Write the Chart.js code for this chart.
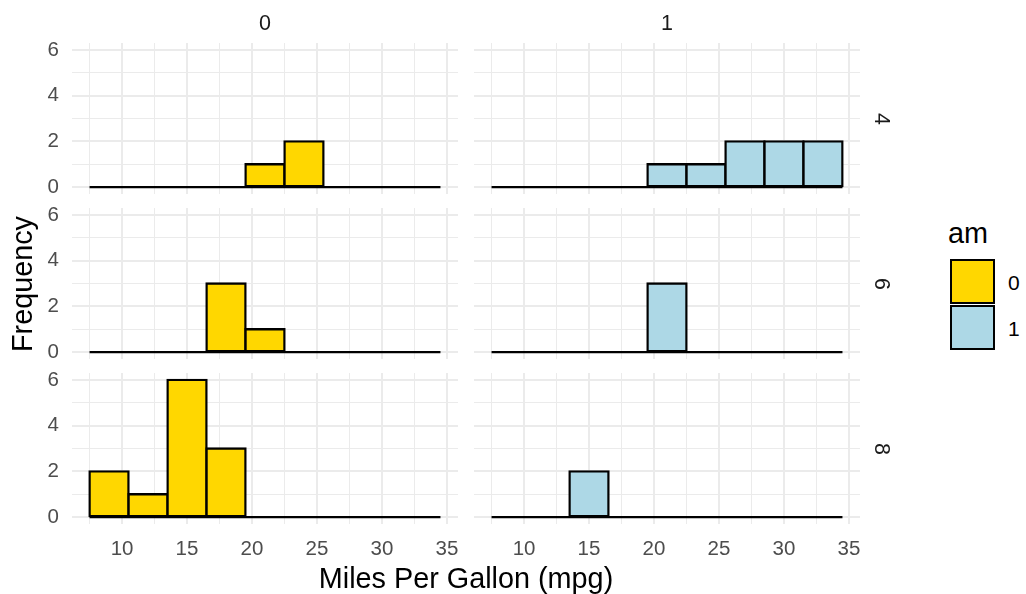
<!DOCTYPE html>
<html>
<head>
<meta charset="utf-8">
<script src="https://cdn.jsdelivr.net/npm/chart.js@4.4.0/dist/chart.umd.min.js"></script>
<style>
  body { margin: 0; background: #fff; font-family: "Liberation Sans", Arial, sans-serif; }
  #wrap { position: relative; width: 1026px; height: 594px; overflow: hidden; background: #fff; }
  #wrap canvas { position: absolute; }
  .lbl { position: absolute; white-space: nowrap; transform: translate(-50%, -50%); line-height: 1; }
  .strip { font-size: 21.5px; color: #1A1A1A; }
  .title { font-size: 28.8px; color: #000; }
  .key { position: absolute; box-sizing: border-box; border: 2.5px solid #000; width: 45px; height: 45px; }
  .keylbl { position: absolute; font-size: 21px; color: #000; line-height: 1; transform: translateY(-50%); }
</style>
</head>
<body>
<div id="wrap"></div>
<script>
// histogram bins (mpg, width 3)
const binCenters = [9, 12, 15, 18, 21, 24, 27, 30, 33];
const binWidth = 3;

// facets
const amLevels = ['0', '1'];
const cylLevels = ['4', '6', '8'];
const fillColors = ['#FFD700', '#ADD8E6'];

// counts per bin
const countsCyl4Am0 = [0, 0, 0, 0, 1, 2, 0, 0, 0];
const countsCyl4Am1 = [0, 0, 0, 0, 1, 1, 2, 2, 2];
const countsCyl6Am0 = [0, 0, 0, 3, 1, 0, 0, 0, 0];
const countsCyl6Am1 = [0, 0, 0, 0, 3, 0, 0, 0, 0];
const countsCyl8Am0 = [2, 1, 6, 3, 0, 0, 0, 0, 0];
const countsCyl8Am1 = [0, 0, 2, 0, 0, 0, 0, 0, 0];
const counts = [
  [countsCyl4Am0, countsCyl4Am1],
  [countsCyl6Am0, countsCyl6Am1],
  [countsCyl8Am0, countsCyl8Am1]
];

// axis ticks (major ones get labels)
const xTicks = [7.5, 10, 12.5, 15, 17.5, 20, 22.5, 25, 27.5, 30, 32.5, 35];
const xMajor = [10, 15, 20, 25, 30, 35];
const yTicks = [0, 1, 2, 3, 4, 5, 6];
const yMajor = [0, 2, 4, 6];

const xTitle = 'Miles Per Gallon (mpg)';
const yTitle = 'Frequency';
const legendTitle = 'am';

// layout
const colLeft = [72, 474];
const rowTop = [43, 208, 373];
const panelW = 386;
const panelH = 151;
const xMin = 6.15, xMax = 35.85;
const M = 30;
const FONT = '"Liberation Sans", Arial, sans-serif';

const wrap = document.getElementById('wrap');

function makePanel(r, c) {
  const cv = document.createElement('canvas');
  const bottomExtra = r === 2 ? 44 : M;
  const w = panelW + 2 * M;
  const h = panelH + M + bottomExtra;
  cv.width = w;
  cv.height = h;
  cv.style.left = (colLeft[c] - M) + 'px';
  cv.style.top = (rowTop[r] - M) + 'px';
  cv.style.width = w + 'px';
  cv.style.height = h + 'px';
  wrap.appendChild(cv);

  const data = counts[r][c];
  const first = binCenters[0] - binWidth / 2;
  const last = binCenters[binCenters.length - 1] + binWidth / 2;

  new Chart(cv, {
    type: 'bar',
    data: {
      datasets: [
        {
          type: 'line',
          data: [{ x: first, y: 0 }, { x: last, y: 0 }],
          borderColor: '#000',
          borderWidth: 2.4,
          pointRadius: 0,
          order: 1
        },
        {
          data: binCenters.map((x, i) => ({ x: x, y: data[i] })),
          backgroundColor: fillColors[c],
          borderColor: '#000',
          borderWidth: 2.4,
          borderSkipped: false,
          inflateAmount: 1.2,
          // one bin wide in pixels
          barThickness: binWidth * panelW / (xMax - xMin),
          order: 0
        }
      ]
    },
    options: {
      responsive: false,
      animation: false,
      events: [],
      layout: { padding: { left: c === 0 ? 0 : M, right: M, top: M, bottom: r === 2 ? 0 : M } },
      plugins: { legend: { display: false }, tooltip: { enabled: false } },
      scales: {
        x: {
          type: 'linear',
          min: xMin,
          max: xMax,
          offset: false,
          border: { display: false },
          grid: {
            offset: false,
            drawTicks: false,
            color: '#EBEBEB',
            lineWidth: ctx => xMajor.includes(ctx.tick.value) ? 2 : 1
          },
          afterBuildTicks: s => { s.ticks = xTicks.map(v => ({ value: v })); },
          afterFit: s => { s.height = r === 2 ? 44 : 0; },
          ticks: {
            display: r === 2,
            autoSkip: false,
            maxRotation: 0,
            padding: 13,
            color: '#4D4D4D',
            font: { family: FONT, size: 20.5 },
            callback: v => xMajor.includes(v) ? String(v) : ''
          }
        },
        y: {
          type: 'linear',
          min: -0.3,
          max: 6.3,
          border: { display: false },
          grid: {
            drawTicks: false,
            color: '#EBEBEB',
            lineWidth: ctx => yMajor.includes(ctx.tick.value) ? 2 : 1
          },
          afterBuildTicks: s => { s.ticks = yTicks.map(v => ({ value: v })); },
          afterFit: s => { s.width = c === 0 ? M : 0; },
          ticks: {
            display: c === 0,
            autoSkip: false,
            padding: 13,
            color: '#4D4D4D',
            font: { family: FONT, size: 20.5 },
            callback: v => yMajor.includes(v) ? String(v) : ''
          }
        }
      }
    }
  });
}

for (let r = 0; r < cylLevels.length; r++) {
  for (let c = 0; c < amLevels.length; c++) makePanel(r, c);
}

function addLabel(text, cls, x, y, rot) {
  const d = document.createElement('div');
  d.className = 'lbl ' + cls;
  d.textContent = text;
  d.style.left = x + 'px';
  d.style.top = y + 'px';
  if (rot) d.style.transform = 'translate(-50%, -50%) rotate(' + rot + 'deg)';
  wrap.appendChild(d);
}

// strips
amLevels.forEach((a, c) => addLabel(a, 'strip', colLeft[c] + panelW / 2, 24));
cylLevels.forEach((cy, r) => addLabel(cy, 'strip', 881, rowTop[r] + panelH / 2, 90));

// axis titles
addLabel(xTitle, 'title', (colLeft[0] + colLeft[1] + panelW) / 2, 578);
addLabel(yTitle, 'title', 22, (rowTop[0] + rowTop[2] + panelH) / 2, -90);

// legend
const lt = document.createElement('div');
lt.className = 'keylbl';
lt.style.fontSize = '28.8px';
lt.style.left = '948px';
lt.style.top = '233px';
lt.textContent = legendTitle;
wrap.appendChild(lt);
amLevels.forEach((a, i) => {
  const k = document.createElement('div');
  k.className = 'key';
  k.style.left = '950px';
  k.style.top = (259 + i * 46) + 'px';
  k.style.background = fillColors[i];
  wrap.appendChild(k);
  const l = document.createElement('div');
  l.className = 'keylbl';
  l.style.left = '1008px';
  l.style.top = (282 + i * 46) + 'px';
  l.textContent = a;
  wrap.appendChild(l);
});
</script>
</body>
</html>
